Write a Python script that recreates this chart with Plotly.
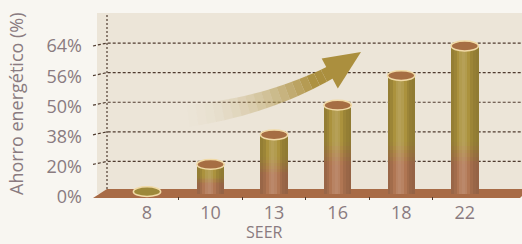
import math
import plotly.graph_objects as go

# ---- data ----
seer = ["8", "10", "13", "16", "18", "22"]
savings = [0, 20, 38, 50, 56, 64]          # % energy saving per SEER
tick_pct = [0, 20, 38, 50, 56, 64]          # y-axis tick labels (non-linear axis)
tick_text = [f"{v}%" for v in tick_pct]

levels = [tick_pct.index(v) for v in savings]   # position on the category-like y scale
xpos = list(range(len(seer)))
tick_levels = list(range(len(tick_pct)))

# ---- geometry helpers (layout constants, not data) ----
W, H = 522, 244
ML, MR, MT, MB = 90, 0, 10, 44
XR = [-0.897, 5.901]
YR = [-0.203, 6.216]
YR2 = [-0.099, 6.192]       # front-plane scale for the tick labels
BAR_W = 0.43
ELL_HW = 0.215
ELL_HH = 0.165

TEXT = "#8a7b80"
PAGE = "#f8f6f1"
WALL = "#ece5d8"
FLOOR = "#a86b46"
GRID = "#4f3b2f"
FS = 18

def mix(c1, c2, t):
    a = [int(c1[i:i + 2], 16) for i in (1, 3, 5)]
    b = [int(c2[i:i + 2], 16) for i in (1, 3, 5)]
    return "#" + "".join(f"{round(a[k] + (b[k] - a[k]) * t):02x}" for k in range(3))

def shade(c, f):
    if f >= 1:
        return mix(c, "#ffffff", f - 1)
    return mix(c, "#000000", 1 - f)

GOLD = "#aa913c"
BROWN = "#b07552"
nstrip = 10
strip_f = [0.84 + 0.30 * math.exp(-(((s + 0.5) / nstrip - 0.45) / 0.26) ** 2) for s in range(nstrip)]

fig = go.Figure()

sw = BAR_W / nstrip
nblend = 6
b1 = [min(0.33 * L, 1.0) for L in levels]
b2 = [min(0.62 * L, 1.75) for L in levels]
zones = [([0.0] * len(levels), b1, BROWN)]
for j in range(nblend):
    lo = [a + (b - a) * j / nblend for a, b in zip(b1, b2)]
    hi = [a + (b - a) * (j + 1) / nblend for a, b in zip(b1, b2)]
    zones.append((lo, hi, mix(BROWN, GOLD, (j + 0.5) / nblend)))
zones.append((b2, levels, GOLD))
for s, f in enumerate(strip_f):
    off = -BAR_W / 2 + s * sw
    for lo, hi, col in zones:
        fig.add_trace(go.Bar(
            x=xpos, y=[max(h - l, 0) for l, h in zip(lo, hi)], base=lo,
            width=sw * 1.05, offset=off,
            marker=dict(color=shade(col, f), line=dict(width=0)),
            hoverinfo="skip", showlegend=False))

# invisible carrier for the front-plane tick-label axis
fig.add_trace(go.Scatter(x=[xpos[0]] * len(tick_levels), y=tick_levels, yaxis="y2",
                         mode="markers", marker=dict(opacity=0), hoverinfo="skip",
                         showlegend=False))

shapes = []
px2x = lambda px: XR[0] + (px - ML) / (W - ML - MR) * (XR[1] - XR[0])
py2y = lambda py: YR[0] + (H - MB - py) / (H - MT - MB) * (YR[1] - YR[0])

# back wall
shapes.append(dict(type="rect", xref="x", yref="y", x0=px2x(97), x1=XR[1], y0=0,
                   y1=py2y(13), fillcolor=WALL, line=dict(width=0), layer="below"))
# floor
fp = [(93, 198), (107, 189), (522, 189), (522, 196), (520, 198)]
path = "M " + " L ".join(f"{px2x(a)},{py2y(b)}" for a, b in fp) + " Z"
shapes.append(dict(type="path", xref="x", yref="y", path=path, fillcolor=FLOOR,
                   line=dict(width=0), layer="below"))
# vertical dotted axis line on wall
shapes.append(dict(type="line", xref="x", yref="y", x0=px2x(107), x1=px2x(107),
                   y0=py2y(189), y1=py2y(13), line=dict(color=GRID, width=1.2, dash="2px,2px"),
                   layer="below"))
# gridlines: front edge -> back wall
for k in tick_levels[1:]:
    yb = k + 0.1
    p = f"M {px2x(93)},{k} L {px2x(107)},{yb} L {XR[1]},{yb}"
    shapes.append(dict(type="path", xref="x", yref="y", path=p,
                       line=dict(color=GRID, width=1.2, dash="3px,2px"), layer="below"))

# curved gradient arrow (decoration), pixel space -> data space
def bez(t, p0, p1, p2):
    return ((1 - t) ** 2 * p0[0] + 2 * (1 - t) * t * p1[0] + t ** 2 * p2[0],
            (1 - t) ** 2 * p0[1] + 2 * (1 - t) * t * p1[1] + t ** 2 * p2[1])

P0, P1, P2 = (188, 116), (268, 106), (331, 72)
ARROW = "#ab8f3e"
def todata(pt):
    return (px2x(pt[0]), py2y(pt[1]))

nseg = 18
pts = []
for i in range(nseg + 1):
    t = i / nseg
    c = bez(t, P0, P1, P2)
    d = (2 * (1 - t) * (P1[0] - P0[0]) + 2 * t * (P2[0] - P1[0]),
         2 * (1 - t) * (P1[1] - P0[1]) + 2 * t * (P2[1] - P1[1]))
    n = (d[0] ** 2 + d[1] ** 2) ** 0.5
    nx, ny = -d[1] / n, d[0] / n
    hw = 11 - 4.5 * t
    pts.append(((c[0] + nx * hw, c[1] + ny * hw), (c[0] - nx * hw, c[1] - ny * hw)))
for i in range(nseg):
    a1, b1_ = pts[i]
    a2, b2_ = pts[i + 1]
    quad = [a1, a2, b2_, b1_]
    pth = "M " + " L ".join("{},{}".format(*todata(q)) for q in quad) + " Z"
    op = min(1.0, ((i + 1) / nseg) ** 1.8 * 1.2)
    shapes.append(dict(type="path", xref="x", yref="y", path=pth,
                       fillcolor=ARROW, opacity=op, line=dict(width=0), layer="below"))
# arrow head
hb = (331.5, 72.5)
d = (P2[0] - P1[0], P2[1] - P1[1])
n = (d[0] ** 2 + d[1] ** 2) ** 0.5
ux, uy = d[0] / n, d[1] / n
tip = (361, 52)
c1 = (hb[0] - uy * 17 - ux * 2, hb[1] + ux * 17 - uy * 2)
c2 = (hb[0] + uy * 17 - ux * 2, hb[1] - ux * 17 - uy * 2)
pth = "M " + " L ".join("{},{}".format(*todata(q)) for q in [c1, tip, c2]) + " Z"
shapes.append(dict(type="path", xref="x", yref="y", path=pth,
                   fillcolor=ARROW, line=dict(width=0), layer="below"))

# cylinder tops (ellipses)
for xi, L in zip(xpos, levels):
    fill = "#9d893a" if L == 0 else "#a66e43"
    yc = L + (0.08 if L == 0 else 0)
    shapes.append(dict(type="circle", xref="x", yref="y",
                       x0=xi - ELL_HW, x1=xi + ELL_HW, y0=yc - ELL_HH, y1=yc + ELL_HH,
                       fillcolor=fill, line=dict(color="#f1daa6", width=1.5), layer="above"))

fig.update_layout(
    width=W, height=H,
    margin=dict(l=ML, r=MR, t=MT, b=MB, autoexpand=False),
    paper_bgcolor=PAGE, plot_bgcolor=PAGE,
    barmode="overlay", bargap=0,
    showlegend=False,
    shapes=shapes,
    font=dict(family="Open Sans", color=TEXT, size=FS),
    xaxis=dict(range=XR, tickvals=xpos, ticktext=seer, showgrid=False, zeroline=False,
               showline=False, ticks="", automargin=False, fixedrange=True,
               tickfont=dict(size=FS, color=TEXT),
               minor=dict(tickvals=[i + 0.5 for i in xpos[:-1]], ticks="inside",
                          ticklen=3, tickwidth=1.2, tickcolor=GRID, showgrid=False)),
    yaxis=dict(range=YR, showticklabels=False, showgrid=False, zeroline=False,
               showline=False, ticks="", automargin=False, fixedrange=True),
    yaxis2=dict(range=YR2, overlaying="y", side="left", anchor="x",
                tickvals=tick_levels, ticktext=tick_text,
                showgrid=False, zeroline=False, showline=False, ticks="", automargin=False,
                fixedrange=True, ticklabelstandoff=7, tickfont=dict(size=FS, color=TEXT)),
    annotations=[
        dict(text="SEER", xref="paper", yref="paper", x=(264 - ML) / (W - ML),
             y=(H - MB - 232) / (H - MT - MB), xanchor="center", yanchor="middle",
             showarrow=False, font=dict(size=16, color=TEXT)),
        dict(text="Ahorro energético (%)", xref="paper", yref="paper",
             x=(16 - ML) / (W - ML), y=(H - MB - 104) / (H - MT - MB), textangle=-90,
             xanchor="center", yanchor="middle", showarrow=False,
             font=dict(size=FS, color=TEXT)),
    ],
)

fig.write_html("out.html", config={"displayModeBar": False},
               post_script="document.body.style.margin='0';document.body.style.background='#f8f6f1';")
